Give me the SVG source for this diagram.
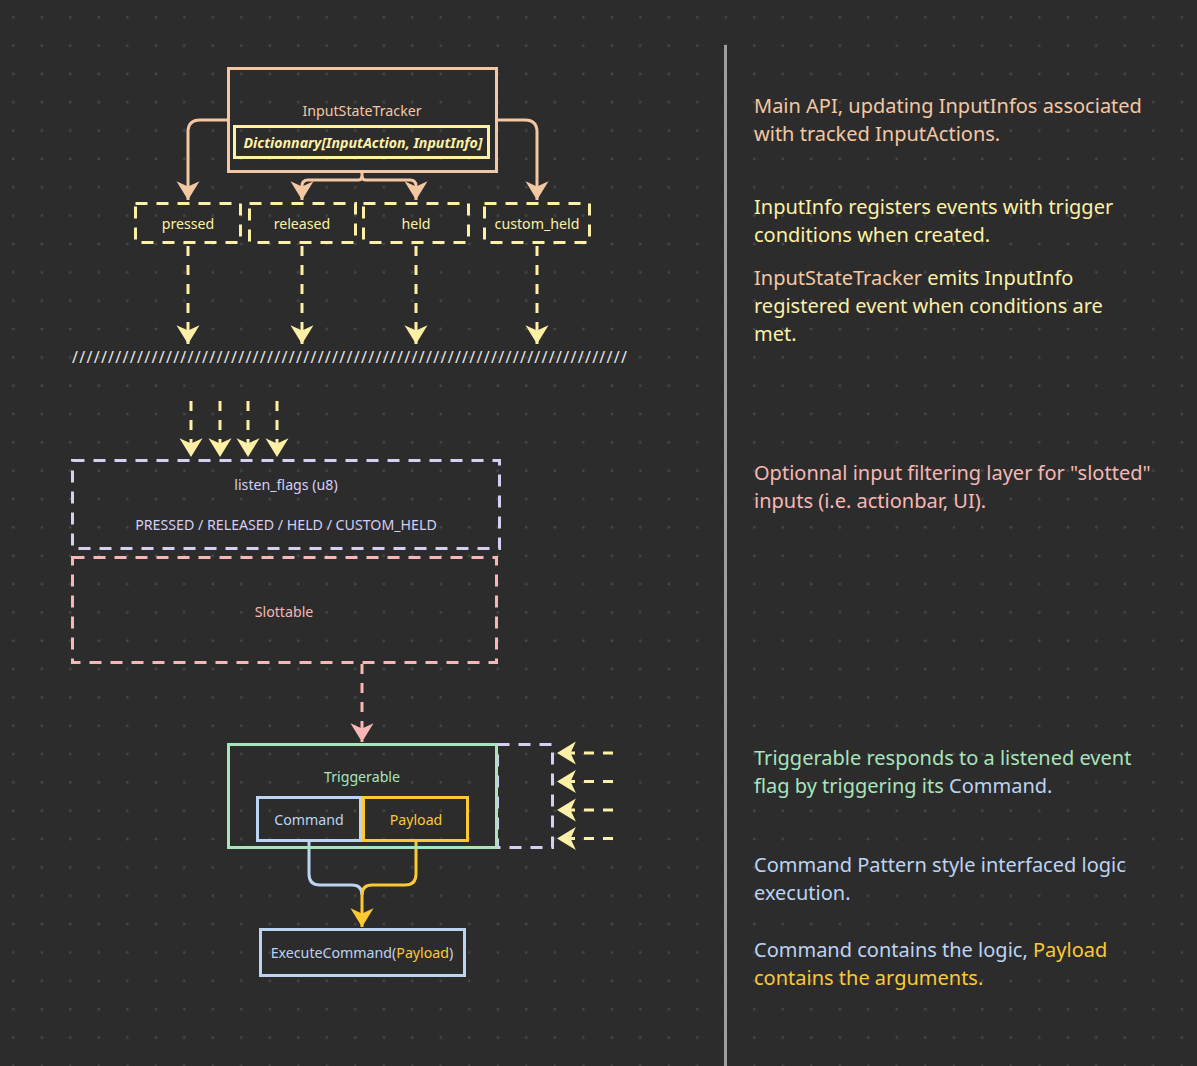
<svg xmlns="http://www.w3.org/2000/svg" width="1197" height="1066" viewBox="0 0 1197 1066">
<defs>
<pattern id="dots" x="13.3" y="17.3" width="28.5" height="28.34" patternUnits="userSpaceOnUse">
<circle cx="0" cy="0" r="1.4" fill="#474747"/>
<circle cx="28.5" cy="0" r="1.4" fill="#474747"/>
<circle cx="0" cy="28.34" r="1.4" fill="#474747"/>
<circle cx="28.5" cy="28.34" r="1.4" fill="#474747"/>
</pattern>
<marker id="mPeach" markerUnits="userSpaceOnUse" markerWidth="22" markerHeight="26" viewBox="-20 -12 21 24" refX="0" refY="0" orient="auto"><path d="M0,0 L-18,-11 L-13,0 L-18,11 Z" fill="#f4c7a3"/></marker>
<marker id="mYellow" markerUnits="userSpaceOnUse" markerWidth="22" markerHeight="26" viewBox="-20 -12 21 24" refX="0" refY="0" orient="auto"><path d="M0,0 L-18,-11 L-13,0 L-18,11 Z" fill="#fdf0a6"/></marker>
<marker id="mPink" markerUnits="userSpaceOnUse" markerWidth="22" markerHeight="26" viewBox="-20 -12 21 24" refX="0" refY="0" orient="auto"><path d="M0,0 L-18,-11 L-13,0 L-18,11 Z" fill="#f7b7b5"/></marker>
<marker id="mGold" markerUnits="userSpaceOnUse" markerWidth="22" markerHeight="26" viewBox="-20 -12 21 24" refX="0" refY="0" orient="auto"><path d="M0,0 L-18,-11 L-13,0 L-18,11 Z" fill="#fcc933"/></marker>
</defs>
<style>
text{font-family:"Noto Sans","Open Sans","DejaVu Sans",sans-serif}
.n{font-size:14.2px;text-anchor:middle}
.note{font-size:20px}
.peach{fill:#f4c7a3}
.yellow{fill:#fdf0a6}
.lav{fill:#d6cff4}
.pink{fill:#f7b7b5}
.green{fill:#a8e4bc}
.blue{fill:#bcd3f2}
.gold{fill:#fcc933}
.box{fill:none;stroke-width:3}
.dash{stroke-dasharray:12 9}
.conn{fill:none;stroke-width:3}
.cdash{stroke-dasharray:10 9}
</style>
<rect width="1197" height="1066" fill="#2c2c2c"/>
<rect width="1197" height="1066" fill="url(#dots)"/>
<line x1="725.5" y1="45" x2="725.5" y2="1066" stroke="#9e9e9e" stroke-width="3"/>

<g id="connectors">
<path class="conn" stroke="#f4c7a3" d="M228,120 H200 Q188,120 188,132 V200" marker-end="url(#mPeach)"/>
<path class="conn" stroke="#f4c7a3" d="M497,120 H525 Q537,120 537,132 V200" marker-end="url(#mPeach)"/>
<path class="conn" stroke="#f4c7a3" d="M362,172 V176 Q362,180 358,180 H308 Q302,180 302,186 V200" marker-end="url(#mPeach)"/>
<path class="conn" stroke="#f4c7a3" d="M362,176 Q362,180 366,180 H410 Q416,180 416,186 V200" marker-end="url(#mPeach)"/>
<path class="conn cdash" stroke="#fdf0a6" d="M188,246 V344" marker-end="url(#mYellow)"/>
<path class="conn cdash" stroke="#fdf0a6" d="M302,246 V344" marker-end="url(#mYellow)"/>
<path class="conn cdash" stroke="#fdf0a6" d="M416,246 V344" marker-end="url(#mYellow)"/>
<path class="conn cdash" stroke="#fdf0a6" d="M537,246 V344" marker-end="url(#mYellow)"/>
<path class="conn cdash" stroke="#fdf0a6" d="M191,401 V457" marker-end="url(#mYellow)"/>
<path class="conn cdash" stroke="#fdf0a6" d="M220,401 V457" marker-end="url(#mYellow)"/>
<path class="conn cdash" stroke="#fdf0a6" d="M248,401 V457" marker-end="url(#mYellow)"/>
<path class="conn cdash" stroke="#fdf0a6" d="M277,401 V457" marker-end="url(#mYellow)"/>
<path class="conn cdash" stroke="#f7b7b5" d="M362,664 V742" marker-end="url(#mPink)"/>
<path class="conn cdash" stroke="#fdf0a6" d="M613,753 H557" marker-end="url(#mYellow)"/>
<path class="conn cdash" stroke="#fdf0a6" d="M613,781.5 H557" marker-end="url(#mYellow)"/>
<path class="conn cdash" stroke="#fdf0a6" d="M613,810 H557" marker-end="url(#mYellow)"/>
<path class="conn cdash" stroke="#fdf0a6" d="M613,838.5 H557" marker-end="url(#mYellow)"/>
<path class="conn" stroke="#bcd3f2" d="M309,842 V874 Q309,885 320,885 H352 Q362,885 362,895"/>
<path class="conn" stroke="#fcc933" d="M416,842 V874 Q416,885 405,885 H372 Q362,885 362,895 V927" marker-end="url(#mGold)"/>
</g>

<g id="InputStateTracker">
<rect class="box" x="228.5" y="68.5" width="268" height="103" stroke="#f4c7a3"/>
<text class="n peach" x="362" y="116">InputStateTracker</text>
<rect class="box" x="234.5" y="126.5" width="254" height="31" stroke="#fdf0a6"/>
<text class="n yellow" x="363" y="148" font-weight="bold" font-style="italic">Dictionnary[InputAction, InputInfo]</text>
</g>

<g id="pressed">
<rect class="box dash" x="135.5" y="203.5" width="105" height="39" stroke="#fdf0a6"/>
<text class="n yellow" x="188" y="229">pressed</text>
</g>
<g id="released">
<rect class="box dash" x="249.5" y="203.5" width="106" height="39" stroke="#fdf0a6"/>
<text class="n yellow" x="302" y="229">released</text>
</g>
<g id="held">
<rect class="box dash" x="363.5" y="203.5" width="105" height="39" stroke="#fdf0a6"/>
<text class="n yellow" x="416" y="229">held</text>
</g>
<g id="custom_held">
<rect class="box dash" x="484.5" y="203.5" width="105" height="39" stroke="#fdf0a6"/>
<text class="n yellow" x="537" y="229">custom_held</text>
</g>

<g id="separator">
<text x="72" y="363" font-size="16" fill="#e6e6e6" textLength="555" lengthAdjust="spacing">/////////////////////////////////////////////////////////////////////////////</text>
</g>

<g id="listen_flags">
<rect class="box dash" x="72.5" y="460.5" width="427" height="88" stroke="#d6cff4"/>
<text class="n lav" x="286" y="490">listen_flags (u8)</text>
<text class="n lav" x="286" y="530">PRESSED / RELEASED / HELD / CUSTOM_HELD</text>
</g>

<g id="Slottable">
<rect class="box dash" x="72.5" y="557.5" width="424" height="105" stroke="#f7b7b5"/>
<text class="n pink" x="284" y="617">Slottable</text>
</g>

<g id="listen_flags_side">
<rect class="box dash" x="497.5" y="744.5" width="55" height="103" stroke="#d6cff4"/>
</g>

<g id="Triggerable">
<rect class="box" x="228.5" y="744.5" width="268" height="103" stroke="#a8e4bc"/>
<text class="n green" x="362" y="782">Triggerable</text>
</g>
<g id="Command">
<rect class="box" x="257.5" y="797.5" width="103" height="43" stroke="#bcd3f2"/>
<text class="n blue" x="309" y="825">Command</text>
</g>
<g id="Payload">
<rect class="box" x="363.5" y="797.5" width="104" height="43" stroke="#fcc933"/>
<text class="n gold" x="416" y="825">Payload</text>
</g>

<g id="ExecuteCommand">
<rect class="box" x="260.5" y="929.5" width="204" height="46" stroke="#bcd3f2"/>
<text class="n blue" x="362" y="958">ExecuteCommand(<tspan class="gold">Payload</tspan>)</text>
</g>

<g id="notes">
<text class="note peach" x="754" y="113">Main API, updating InputInfos associated</text>
<text class="note peach" x="754" y="141">with tracked InputActions.</text>
<text class="note yellow" x="754" y="214">InputInfo registers events with trigger</text>
<text class="note yellow" x="754" y="242">conditions when created.</text>
<text class="note yellow" x="754" y="285"><tspan class="peach">InputStateTracker</tspan> emits InputInfo</text>
<text class="note yellow" x="754" y="313">registered event when conditions are</text>
<text class="note yellow" x="754" y="341">met.</text>
<text class="note pink" x="754" y="480">Optionnal input filtering layer for "slotted"</text>
<text class="note pink" x="754" y="508">inputs (i.e. actionbar, UI).</text>
<text class="note green" x="754" y="765">Triggerable responds to a listened event</text>
<text class="note green" x="754" y="793">flag by triggering its <tspan class="blue">Command.</tspan></text>
<text class="note blue" x="754" y="872">Command Pattern style interfaced logic</text>
<text class="note blue" x="754" y="900">execution.</text>
<text class="note blue" x="754" y="957">Command contains the logic, <tspan class="gold">Payload</tspan></text>
<text class="note gold" x="754" y="985">contains the arguments.</text>
</g>
</svg>
